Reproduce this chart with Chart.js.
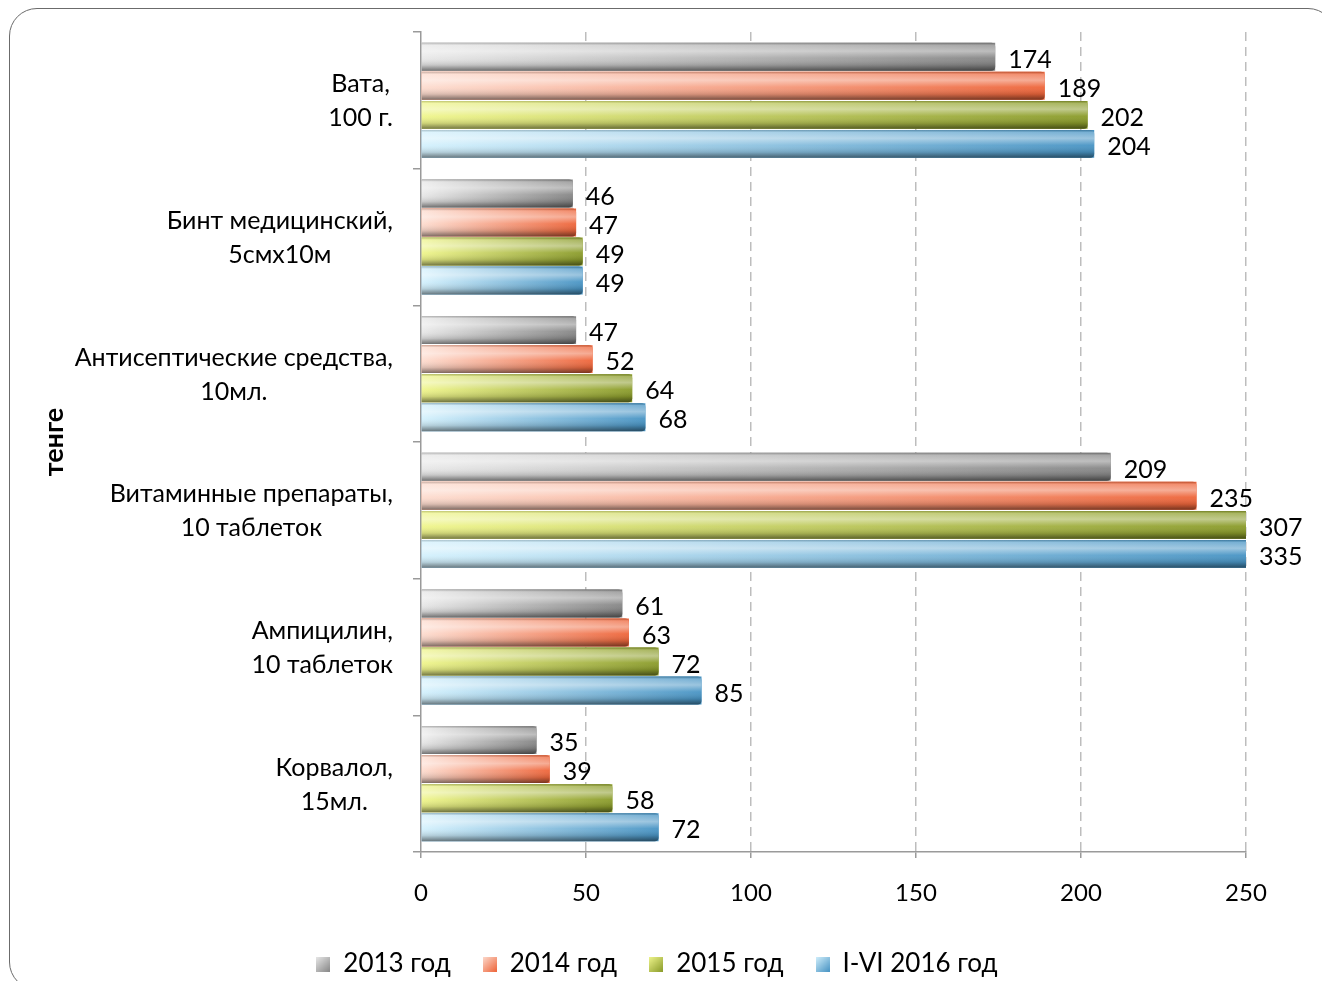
<!DOCTYPE html>
<html>
<head>
<meta charset="utf-8">
<script src="https://cdn.jsdelivr.net/npm/chart.js@4.4.0/dist/chart.umd.min.js"></script>
<style>
  html, body { margin: 0; padding: 0; background: #fff; overflow: hidden; }
  #frame {
    position: absolute; left: 9px; top: 8px; width: 1327px; height: 982px;
    border: 1.5px solid #6b6b6b; border-radius: 28px; box-sizing: border-box;
  }
  #wrap { position: absolute; left: 0; top: 0; width: 1314px; height: 981px; }
</style>
</head>
<body>
<div id="frame"></div>
<div id="wrap"><canvas id="chart"></canvas></div>
<script>
// Цены на медицинские товары, тенге
const categories = [
  ['Вата,', '100 г.'],
  ['Бинт медицинский,', '5смх10м'],
  ['Антисептические средства,', '10мл.'],
  ['Витаминные препараты,', '10 таблеток'],
  ['Ампицилин,', '10 таблеток'],
  ['Корвалол,', '15мл.']
];
const years = ['2013 год', '2014 год', '2015 год', 'I-VI 2016 год'];
const prices2013 = [174, 46, 47, 209, 61, 35];
const prices2014 = [189, 47, 52, 235, 63, 39];
const prices2015 = [202, 49, 64, 307, 72, 58];
const prices2016 = [204, 49, 68, 335, 85, 72];
const xTicks = [0, 50, 100, 150, 200, 250];

// светлый край / насыщенный край полосы
const lightColors = ['#e8e8e8', '#fddccf', '#eff58c', '#d4f1fd'];
const darkColors = ['#868686', '#ee653a', '#8a9b2a', '#4894c4'];

const FONT = 'Lato, "Noto Sans", sans-serif';

// маленькие квадратики для легенды
function makeSwatch(i) {
  const c = document.createElement('canvas');
  c.width = 14; c.height = 15;
  const g = c.getContext('2d');
  const gr = g.createLinearGradient(0, 0, 14, 15);
  gr.addColorStop(0, lightColors[i]);
  gr.addColorStop(1, darkColors[i]);
  g.fillStyle = gr;
  g.fillRect(0, 0, 14, 15);
  return c;
}
const swatches = years.map((_, i) => makeSwatch(i));

// объёмная заливка полос
const barShade = {
  id: 'barShade',
  afterDatasetsDraw(chart) {
    const ctx = chart.ctx, area = chart.chartArea;
    ctx.save();
    ctx.beginPath();
    ctx.rect(area.left, area.top, area.right - area.left, area.bottom - area.top);
    ctx.clip();
    chart.data.datasets.forEach((ds, di) => {
      chart.getDatasetMeta(di).data.forEach(bar => {
        const p = bar.getProps(['x', 'y', 'base', 'height'], true);
        const left = Math.min(p.base, p.x);
        const right = Math.min(Math.max(p.base, p.x), area.right);
        const top = p.y - p.height / 2;
        const h = p.height;
        const w = right - left;
        const r = right < area.right ? 4 : 0;

        const hg = ctx.createLinearGradient(left, 0, right, 0);
        hg.addColorStop(0, lightColors[di]);
        hg.addColorStop(1, darkColors[di]);
        ctx.beginPath();
        ctx.roundRect(left, top, w, h, [0, r, r, 0]);
        ctx.fillStyle = hg;
        ctx.fill();

        const vg = ctx.createLinearGradient(0, top, 0, top + h);
        vg.addColorStop(0, 'rgba(0,0,0,0.18)');
        vg.addColorStop(0.08, 'rgba(255,255,255,0.25)');
        vg.addColorStop(0.3, 'rgba(255,255,255,0.45)');
        vg.addColorStop(0.55, 'rgba(255,255,255,0.05)');
        vg.addColorStop(0.8, 'rgba(0,0,0,0.14)');
        vg.addColorStop(1, 'rgba(0,0,0,0.5)');
        ctx.fillStyle = vg;
        ctx.fill();
      });
    });
    ctx.restore();
  }
};

// подписи значений справа от полос
const valueLabels = {
  id: 'valueLabels',
  afterDatasetsDraw(chart) {
    const ctx = chart.ctx, area = chart.chartArea;
    ctx.save();
    ctx.font = '25px ' + FONT;
    ctx.fillStyle = '#000';
    ctx.textAlign = 'left';
    ctx.textBaseline = 'middle';
    chart.data.datasets.forEach((ds, di) => {
      chart.getDatasetMeta(di).data.forEach((bar, i) => {
        const p = bar.getProps(['x', 'y'], true);
        ctx.fillText(String(ds.data[i]), Math.min(p.x, area.right) + 13, p.y + 3);
      });
    });
    ctx.restore();
  }
};

// названия категорий: блок по правому краю, строки по центру блока
const categoryLabels = {
  id: 'categoryLabels',
  afterDraw(chart) {
    const ctx = chart.ctx, y = chart.scales.y;
    ctx.save();
    ctx.font = '25px ' + FONT;
    ctx.fillStyle = '#000';
    ctx.textAlign = 'center';
    ctx.textBaseline = 'middle';
    const rightEdge = y.right - 28, lineGap = 34;
    categories.forEach((lines, i) => {
      const cy = y.getPixelForValue(i);
      const widest = Math.max(...lines.map(s => ctx.measureText(s).width));
      const cx = rightEdge - widest / 2;
      lines.forEach((s, k) => {
        ctx.fillText(s, cx, cy + 1 + (k - (lines.length - 1) / 2) * lineGap);
      });
    });
    ctx.restore();
  }
};

const datasets = [prices2013, prices2014, prices2015, prices2016].map((data, i) => ({
  label: years[i],
  data: data,
  backgroundColor: darkColors[i],
  borderWidth: 0,
  categoryPercentage: 0.85,
  barPercentage: 0.96
}));

new Chart(document.getElementById('chart'), {
  type: 'bar',
  data: { labels: categories.map(l => l.join(' ')), datasets: datasets },
  options: {
    indexAxis: 'y',
    responsive: true,
    maintainAspectRatio: false,
    animation: false,
    layout: { padding: { left: 68, right: 68, top: 32, bottom: -6 } },
    scales: {
      x: {
        min: 0,
        max: 250,
        afterBuildTicks: scale => { scale.ticks = xTicks.map(v => ({ value: v })); },
        afterFit: scale => { scale.height = 67; },
        grid: {
          color: ctx => ctx.tick && ctx.tick.value === 0 ? 'rgba(0,0,0,0)' : '#bdbdbd',
          lineWidth: 1.5,
          tickLength: 6,
          tickColor: '#9a9a9a',
          tickBorderDash: []
        },
        border: { display: true, color: '#9a9a9a', width: 1.5, dash: [9, 6] },
        ticks: { font: { size: 24, family: FONT }, color: '#000', padding: 21 }
      },
      y: {
        afterFit: scale => { scale.width = 353; },
        grid: {
          drawOnChartArea: false,
          drawTicks: true,
          tickLength: 8,
          tickColor: '#9a9a9a',
          lineWidth: 1.5
        },
        border: { display: true, color: '#9a9a9a', width: 1.5 },
        ticks: { color: 'rgba(0,0,0,0)', font: { size: 22, family: FONT } },
        title: {
          display: true,
          text: 'тенге',
          color: '#000',
          font: { size: 27, weight: 'bold', family: FONT },
          padding: { top: -30, bottom: 0 }
        }
      }
    },
    plugins: {
      legend: {
        position: 'bottom',
        labels: {
          usePointStyle: true,
          pointStyleWidth: 14,
          boxHeight: 14,
          padding: 32,
          color: '#000',
          font: { size: 26, family: FONT },
          generateLabels: () => years.map((t, i) => ({
            text: t,
            fillStyle: darkColors[i],
            strokeStyle: 'rgba(0,0,0,0)',
            lineWidth: 0,
            pointStyle: swatches[i],
            datasetIndex: i,
            hidden: false
          }))
        }
      },
      tooltip: { enabled: false }
    }
  },
  plugins: [barShade, valueLabels, categoryLabels]
});
</script>
</body>
</html>
